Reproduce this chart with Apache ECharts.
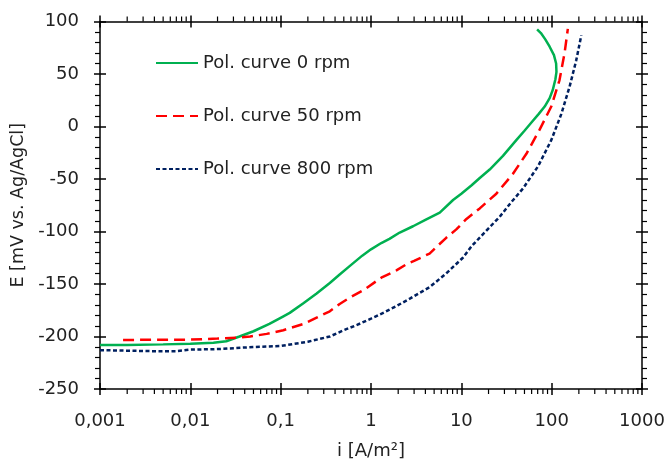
<!DOCTYPE html>
<html>
<head>
<meta charset="utf-8">
<script src="https://cdn.jsdelivr.net/npm/echarts@6/dist/echarts.min.js"></script>
<style>html,body{margin:0;padding:0;background:#fff}#c{width:668px;height:462px}</style>
</head>
<body>
<div id="c"></div>
<script>
// ---- data (i [A/m2], E [mV]) ----
const seriesNames = ['Pol. curve 0 rpm', 'Pol. curve 50 rpm', 'Pol. curve 800 rpm'];
const xTickLabels = ['0,001', '0,01', '0,1', '1', '10', '100', '1000'];
const xMinorTicks = [0.002,0.003,0.004,0.005,0.006,0.007,0.008,0.009,
  0.02,0.03,0.04,0.05,0.06,0.07,0.08,0.09,
  0.2,0.3,0.4,0.5,0.6,0.7,0.8,0.9,
  2,3,4,5,6,7,8,9, 20,30,40,50,60,70,80,90, 200,300,400,500,600,700,800,900];

const curve0 = [
  [0.001,-208],[0.002,-208],[0.005,-207.5],[0.01,-207],[0.018,-206],[0.025,-204.5],
  [0.035,-200],[0.05,-195],[0.075,-188],[0.106,-181],[0.126,-177.5],[0.18,-168],
  [0.25,-159],[0.35,-149],[0.45,-141],[0.58,-133],[0.8,-123],[1.0,-117],[1.3,-111],
  [1.6,-107],[2.08,-101],[2.92,-95],[4.0,-89],[5.77,-82],[8.1,-70],[10,-64],
  [13,-56],[16,-49],[20.6,-41],[28.9,-28],[40.6,-13],[50,-4],[60,4],[72,12],[83.7,19],
  [95,27],[103,35],[110,45],[113,52],[112,60],[106,68],[95,76],[85,83],[76,89],[69,92.6]
];
const curve50 = [
  [0.0018,-203.3],[0.005,-203],[0.01,-203],[0.02,-202],[0.035,-201],[0.046,-200],
  [0.07,-197.5],[0.107,-194],[0.18,-188],[0.25,-182],[0.35,-176],[0.45,-169],
  [0.58,-163],[0.82,-156],[1.3,-144],[1.91,-137],[2.5,-131],[3.0,-128],[4.45,-121],
  [6.8,-106],[8.8,-98],[11.4,-88],[16,-78],[24.4,-64],[37.3,-45],[52.5,-26],
  [73.6,-3],[99,19],[122,44],[139,70],[151,93]
];
const curve800 = [
  [0.001,-213],[0.002,-213.5],[0.004,-214],[0.007,-214],[0.01,-212.5],[0.02,-212],
  [0.05,-210],[0.1,-209],[0.2,-205],[0.35,-200],[0.5,-194],[0.7,-189],[1.0,-183],
  [1.4,-177],[1.91,-171],[2.69,-164],[4.45,-153],[6.8,-140],[10.4,-125],[13,-114],
  [15.9,-106],[20,-97],[26.6,-86],[35,-73],[48.2,-59],[70.6,-38],[99,-13],[128,12],
  [158,38],[187,63],[213,87]
];

const FONT = 'DejaVu Sans';
const FS = 18;
const chart = echarts.init(document.getElementById('c'), null, {renderer: 'canvas'});

const axLine = {show: true, onZero: false, lineStyle: {color: '#000', width: 1.5}};
const noLine = {show: false, onZero: false};
function xLab(v) {
  const k = Math.round(Math.log10(v)) + 3;
  return xTickLabels[k] !== undefined ? xTickLabels[k] : '';
}
const xBase = {type: 'log', logBase: 10, min: 0.001, max: 1000, splitLine: {show: false}};
const yBase = {type: 'value', min: -250, max: 100, interval: 50, splitLine: {show: false}};
const tk = {color: '#000', width: 1.5};

const option = {
  animation: false,
  backgroundColor: '#fff',
  textStyle: {fontFamily: FONT},
  grid: {left: 100, right: 26, top: 21.5, bottom: 73, containLabel: false, outerBoundsMode: 'none'},
  legend: {
    data: seriesNames, orient: 'vertical', left: 155, top: 54, padding: 0,
    itemWidth: 42, itemHeight: 18, itemGap: 35,
    itemStyle: {opacity: 0},
    textStyle: {fontFamily: FONT, fontSize: FS, color: '#222'}
  },
  xAxis: [
    Object.assign({}, xBase, {position: 'bottom', axisLine: axLine,
      axisTick: {show: true, length: 6, lineStyle: tk},
      axisLabel: {formatter: xLab, fontSize: FS, fontFamily: FONT, color: '#222', margin: 23},
      name: 'i [A/m²]', nameLocation: 'middle', nameGap: 53,
      nameTextStyle: {fontSize: FS, fontFamily: FONT, color: '#222'}}),
    Object.assign({}, xBase, {position: 'top', axisLine: axLine,
      axisTick: {show: true, length: 6, lineStyle: tk},
      axisLabel: {show: false}}),
    Object.assign({}, xBase, {position: 'bottom', axisLine: noLine,
      axisTick: {show: true, inside: true, length: 6, lineStyle: tk},
      axisLabel: {show: false}}),
    Object.assign({}, xBase, {position: 'top', axisLine: noLine,
      axisTick: {show: true, inside: true, length: 6, lineStyle: tk},
      axisLabel: {show: false}})
  ],
  yAxis: [
    Object.assign({}, yBase, {position: 'left', axisLine: axLine,
      axisTick: {show: true, length: 6, lineStyle: tk},
      minorTick: {show: true, splitNumber: 5, length: 5, lineStyle: {color: '#000', width: 1.2}},
      axisLabel: {fontSize: FS, fontFamily: FONT, color: '#222', margin: 21},
      name: 'E [mV vs. Ag/AgCl]', nameLocation: 'middle', nameGap: 68, nameRotate: 90,
      nameTextStyle: {fontSize: 17.5, fontFamily: FONT, color: '#222'}}),
    Object.assign({}, yBase, {position: 'right', axisLine: axLine,
      axisTick: {show: true, length: 6, lineStyle: tk},
      minorTick: {show: true, splitNumber: 5, length: 5, lineStyle: {color: '#000', width: 1.2}},
      axisLabel: {show: false}}),
    Object.assign({}, yBase, {position: 'left', axisLine: noLine,
      axisTick: {show: true, inside: true, length: 6, lineStyle: tk},
      axisLabel: {show: false}}),
    Object.assign({}, yBase, {position: 'right', axisLine: noLine,
      axisTick: {show: true, inside: true, length: 6, lineStyle: tk},
      axisLabel: {show: false}})
  ],
  series: [
    {name: seriesNames[0], type: 'line', data: curve0, showSymbol: false, symbol: 'none',
      lineStyle: {color: '#00B050', width: 2.5, type: 'solid'}, itemStyle: {color: '#00B050'}, z: 3},
    {name: seriesNames[1], type: 'line', data: curve50, showSymbol: false, symbol: 'none',
      lineStyle: {color: '#FF0000', width: 2.5, type: [11, 6]}, itemStyle: {color: '#FF0000'}, z: 3},
    {name: seriesNames[2], type: 'line', data: curve800, showSymbol: false, symbol: 'none',
      lineStyle: {color: '#002060', width: 2.5, type: [4, 2.5]}, itemStyle: {color: '#002060'}, z: 3},
    {type: 'custom', silent: true, clip: false, z: 5,
      data: xMinorTicks.map(v => [v, -250]),
      renderItem: function (params, api) {
        const v = api.value(0);
        const pb = api.coord([v, -250]);
        const pt = api.coord([v, 100]);
        const st = {stroke: '#000', lineWidth: 1.2};
        return {type: 'group', children: [
          {type: 'line', shape: {x1: pb[0], y1: pb[1], x2: pb[0], y2: pb[1] + 5}, style: st},
          {type: 'line', shape: {x1: pt[0], y1: pt[1], x2: pt[0], y2: pt[1] - 5}, style: st}
        ]};
      }}
  ]
};
chart.setOption(option);
</script>
</body>
</html>
